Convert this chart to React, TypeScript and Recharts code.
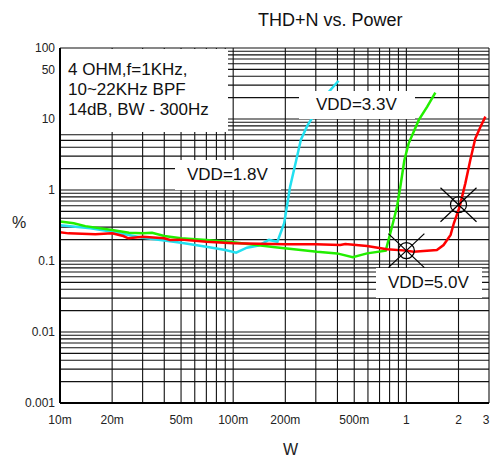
import { ComposedChart, Line, Scatter, XAxis, YAxis, CartesianGrid } from 'recharts';

// axis ticks (log grid), labels only on some of them
const xTicks = [
  0.01, 0.02, 0.03, 0.04, 0.05, 0.06, 0.07, 0.08, 0.09,
  0.1, 0.2, 0.3, 0.4, 0.5, 0.6, 0.7, 0.8, 0.9,
  1, 2, 3,
];
const xLabelValues = [0.01, 0.02, 0.05, 0.1, 0.2, 0.5, 1, 2, 3];
const xLabelTexts = ['10m', '20m', '50m', '100m', '200m', '500m', '1', '2', '3'];

const yTicks = [
  0.001, 0.002, 0.003, 0.004, 0.005, 0.006, 0.007, 0.008, 0.009,
  0.01, 0.02, 0.03, 0.04, 0.05, 0.06, 0.07, 0.08, 0.09,
  0.1, 0.2, 0.3, 0.4, 0.5, 0.6, 0.7, 0.8, 0.9,
  1, 2, 3, 4, 5, 6, 7, 8, 9,
  10, 20, 30, 40, 50, 60, 70, 80, 90,
  100,
];
const yLabelValues = [0.001, 0.01, 0.1, 1, 10, 50, 100];
const yLabelTexts = ['0.001', '0.01', '0.1', '1', '10', '50', '100'];

// VDD=1.8V
const w18 = [0.01, 0.015, 0.02, 0.03, 0.04, 0.05, 0.07, 0.09, 0.104, 0.12, 0.14, 0.161, 0.18, 0.197, 0.213, 0.231, 0.246, 0.269, 0.31, 0.356, 0.406];
const thd18 = [0.32, 0.29, 0.259, 0.213, 0.195, 0.181, 0.159, 0.143, 0.131, 0.154, 0.165, 0.198, 0.187, 0.34, 1.1, 2.6, 5.1, 8.2, 14, 24, 34.6];

// VDD=3.3V
const w33 = [0.01, 0.012, 0.014, 0.02, 0.025, 0.03, 0.034, 0.04, 0.05, 0.07, 0.1, 0.175, 0.305, 0.398, 0.49, 0.593, 0.76, 0.826, 0.883, 0.923, 0.973, 1.03, 1.18, 1.32, 1.47];
const thd33 = [0.36, 0.34, 0.31, 0.273, 0.25, 0.245, 0.25, 0.225, 0.209, 0.198, 0.184, 0.156, 0.135, 0.128, 0.113, 0.128, 0.14, 0.304, 0.58, 1.11, 2.6, 4.5, 9.7, 14.9, 23.5];

// VDD=5.0V
const w50 = [0.01, 0.0112, 0.016, 0.02, 0.0232, 0.0248, 0.03, 0.04, 0.0432, 0.05, 0.07, 0.1, 0.2, 0.3, 0.415, 0.444, 0.593, 0.773, 1, 1.1, 1.5, 1.64, 1.8, 1.88, 2.03, 2.19, 2.34, 2.5, 2.68, 2.86];
const thd50 = [0.254, 0.245, 0.238, 0.245, 0.225, 0.209, 0.22, 0.209, 0.198, 0.2, 0.187, 0.178, 0.172, 0.172, 0.168, 0.174, 0.163, 0.146, 0.14, 0.135, 0.143, 0.168, 0.233, 0.34, 0.58, 1.24, 2.65, 5.3, 7.8, 10.8];

// circled-X markers
const markW = [1, 2];
const markThd = [0.14, 0.62];

const toPoints = (w: number[], thd: number[]) => w.map((v, i) => ({ w: v, thd: thd[i] }));

const FONT = '"Liberation Sans", Arial, sans-serif';

const fmtY = (v: number) => {
  const i = yLabelValues.findIndex((y) => Math.abs(y - v) < 1e-12);
  return i >= 0 ? yLabelTexts[i] : '';
};

// x tick: label only the named values, keep the last one inside the page
const XTick = (props: any) => {
  const { x, y, payload } = props;
  const i = xLabelValues.findIndex((v) => Math.abs(v - payload.value) < 1e-9);
  if (i < 0) return null;
  const last = i === xLabelValues.length - 1;
  return (
    <text x={last ? x - 3 : x} y={y} dy="0.71em" textAnchor="middle" fill="#222" fontSize={12} fontFamily={FONT}>
      {xLabelTexts[i]}
    </text>
  );
};

const CrossCircle = (props: any) => {
  const { cx, cy } = props;
  if (cx == null || cy == null) return null;
  return (
    <g stroke="#000" strokeWidth={1.2} fill="none">
      <circle cx={cx} cy={cy} r={8} />
      <line x1={cx - 18} y1={cy - 17} x2={cx + 18} y2={cy + 17} />
      <line x1={cx - 18} y1={cy + 17} x2={cx + 18} y2={cy - 17} />
    </g>
  );
};

const boxStyle: React.CSSProperties = {
  position: 'absolute',
  background: '#fff',
  fontFamily: FONT,
  fontSize: 17,
  color: '#111',
  boxSizing: 'border-box',
};

export default function App() {
  return (
    <div style={{ position: 'absolute', left: 0, top: 0, width: 490, height: 457, background: '#fff' }}>
      <ComposedChart
        width={490}
        height={457}
        margin={{ top: 48, right: 1, bottom: 34, left: 0 }}
      >
        <CartesianGrid stroke="#111" strokeWidth={1.1} horizontal vertical />
        <XAxis
          dataKey="w"
          type="number"
          scale="log"
          domain={[0.01, 3]}
          ticks={xTicks}
          interval={0}
          tick={<XTick />}
          tickLine={false}
          tickSize={4}
          tickMargin={8}
          height={20}
          allowDataOverflow
          axisLine={{ stroke: '#000', strokeWidth: 2 }}
        />
        <YAxis
          dataKey="thd"
          type="number"
          scale="log"
          domain={[0.001, 100]}
          ticks={yTicks}
          interval={0}
          tickFormatter={fmtY}
          tickLine={false}
          tickSize={3}
          tickMargin={2}
          width={60}
          allowDataOverflow
          axisLine={{ stroke: '#000', strokeWidth: 2 }}
          tick={{ fill: '#222', fontSize: 12, fontFamily: FONT }}
        />
        <Line data={toPoints(w18, thd18)} dataKey="thd" stroke="#22e0f0" strokeWidth={2.5} dot={false} isAnimationActive={false} />
        <Line data={toPoints(w33, thd33)} dataKey="thd" stroke="#22ee00" strokeWidth={2.5} dot={false} isAnimationActive={false} />
        <Line data={toPoints(w50, thd50)} dataKey="thd" stroke="#ff0000" strokeWidth={2.5} dot={false} isAnimationActive={false} />
        <Scatter data={toPoints(markW, markThd)} dataKey="thd" shape={CrossCircle} isAnimationActive={false} />
      </ComposedChart>

      <div style={{ position: 'absolute', left: 258, top: 10, fontFamily: FONT, fontSize: 18, color: '#111', whiteSpace: 'nowrap' }}>
        THD+N vs. Power
      </div>
      <div style={{ position: 'absolute', left: 12, top: 214, fontFamily: FONT, fontSize: 16, color: '#222' }}>%</div>
      <div style={{ position: 'absolute', left: 283, top: 441, fontFamily: FONT, fontSize: 16, color: '#222' }}>W</div>

      <div style={{ ...boxStyle, left: 61, top: 49, width: 167, height: 83, paddingLeft: 7, paddingTop: 11, lineHeight: '20px' }}>
        4 OHM,f=1KHz,<br />10~22KHz BPF<br />14dB, BW - 300Hz
      </div>
      <div style={{ ...boxStyle, left: 175, top: 160, width: 106, height: 30, paddingLeft: 12, lineHeight: '30px' }}>
        VDD=1.8V
      </div>
      <div style={{ ...boxStyle, left: 299, top: 91, width: 116, height: 28, paddingLeft: 17, lineHeight: '28px' }}>
        VDD=3.3V
      </div>
      <div style={{ ...boxStyle, left: 376, top: 268, width: 106, height: 30, paddingLeft: 12, lineHeight: '30px' }}>
        VDD=5.0V
      </div>
    </div>
  );
}
